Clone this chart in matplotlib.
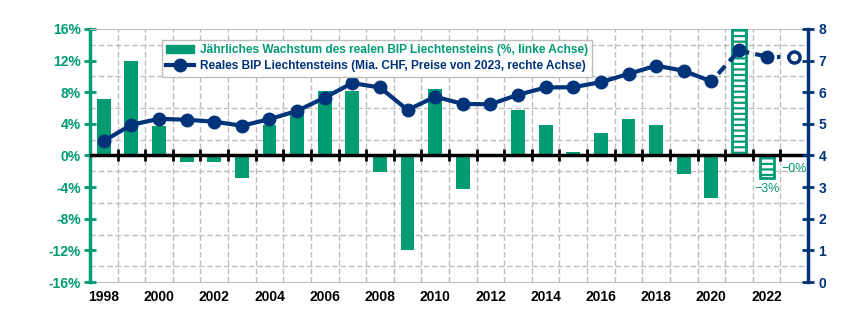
"""BIP Liechtenstein: jährliches Wachstum (Balken) und reales BIP (Linie)."""

import matplotlib.pyplot as plt
import numpy as np
from matplotlib.lines import Line2D
from matplotlib.patches import Patch

plt.rcParams["font.family"] = ["Liberation Sans", "DejaVu Sans"]
plt.rcParams["hatch.linewidth"] = 1.6

GREEN = "#009a73"
NAVY = "#00337a"
GRID = "#bdbdbd"

years = list(range(1998, 2024))
growth = [7.2, 11.9, 3.7, -0.85, -0.85, -2.9, 3.9, 5.4, 8.1, 8.1,
          -2.1, -11.9, 8.4, -4.3, -0.2, 5.7, 3.8, 0.4, 2.8, 4.6,
          3.8, -2.4, -5.4, 16.0, -2.8, -0.2]
# 2021 and 2022 are estimates (hatched bars)
growth_hatched = [2021, 2022]
gdp = [4.46, 4.97, 5.16, 5.13, 5.07, 4.94, 5.15, 5.41, 5.83, 6.29,
       6.15, 5.44, 5.86, 5.63, 5.62, 5.92, 6.15, 6.16, 6.32, 6.58,
       6.84, 6.68, 6.34, 7.32, 7.13, 7.13]
bar_labels = {2022: "\u22123%", 2023: "\u22120%"}
year_ticks = list(range(1998, 2024, 2))

fig = plt.figure(figsize=(8.52, 3.25), dpi=100)
ax = fig.add_axes([0.1056, 0.1323, 0.8428, 0.7785])
ax2 = ax.twinx()

x = np.arange(len(years))

# bars
for xi, yr, val in zip(x, years, growth):
    if yr in growth_hatched:
        ax.bar(xi, val, width=0.5, facecolor="white", edgecolor=GREEN,
               linewidth=2, hatch="---", zorder=3)
    else:
        ax.bar(xi, val, width=0.5, color=GREEN, zorder=3)

for yr, txt in bar_labels.items():
    i = years.index(yr)
    ax.annotate(txt, (x[i], growth[i]), xytext=(0, -4), textcoords="offset points",
                ha="center", va="top", color=GREEN, fontsize=9, zorder=5)

ax.axhline(0, color="black", lw=2.5, zorder=4)

# left axis
ax.set_xlim(-0.5, len(years) - 0.5)
ax.set_ylim(-16, 16)
ax.set_yticks(np.arange(-16, 17, 4))
ax.set_yticks(np.arange(-16, 17, 2), minor=True)
ax.set_yticklabels([f"{v}%" for v in range(-16, 17, 4)])
ax.tick_params(axis="y", which="major", direction="inout", length=9, width=2,
               color=GREEN, labelcolor=GREEN, labelsize=10, pad=2)
ax.tick_params(axis="y", which="minor", length=0)
for lab in ax.get_yticklabels():
    lab.set_fontweight("bold")
ax.spines["left"].set_color(GREEN)
ax.spines["left"].set_linewidth(2.5)
ax.spines["top"].set_color(GRID)
ax.spines["right"].set_visible(False)

# x axis: ticks at category boundaries on the zero line, labels at bottom
ax.spines["bottom"].set_position(("data", 0))
ax.spines["bottom"].set_visible(False)
ax.set_xticks(x[:-1] + 0.5, minor=True)
ax.set_xticks([])
ax.tick_params(axis="x", which="minor", direction="inout", length=8, width=2,
               color="black")
ax.grid(True, which="minor", axis="both", ls=(0, (4, 2)), color=GRID, lw=1, zorder=0)
ax.set_axisbelow(True)

sec = ax.secondary_xaxis("bottom")
sec.set_xticks([years.index(y) for y in year_ticks])
sec.set_xticklabels([str(y) for y in year_ticks], fontweight="bold", fontsize=10)
sec.tick_params(length=0, pad=6)
sec.spines["bottom"].set_color(GRID)

# line on right axis
n_solid = years.index(2020) + 1
ax2.plot(x[:n_solid], gdp[:n_solid], color=NAVY, lw=3, marker="o", ms=9, zorder=6)
i21, i22, i23 = years.index(2021), years.index(2022), years.index(2023)
ax2.plot(x[n_solid - 1:i21 + 1], gdp[n_solid - 1:i21 + 1], color=NAVY, lw=3,
         ls=(1.5, (2.5, 1.5)), zorder=6)
ax2.plot(x[i21:i22 + 1], gdp[i21:i22 + 1], color=NAVY, lw=3,
         ls=(0, (2.5, 1.5)), zorder=6)
ax2.plot(x[i22:i23 + 1], gdp[i22:i23 + 1], color=NAVY, lw=3,
         ls=(0, (0.8, 1.6)), zorder=6)
ax2.plot(x[i21:i23], gdp[i21:i23], ls="none", marker="o", ms=9, color=NAVY, zorder=7)
ax2.plot(x[i23], gdp[i23], ls="none", marker="o", ms=8, mfc="white",
         mec=NAVY, mew=2.5, zorder=7)

ax2.set_ylim(0, 8)
ax2.set_yticks(range(0, 9))
ax2.tick_params(axis="y", direction="inout", length=9, width=2, color=NAVY,
                labelcolor=NAVY, labelsize=10, pad=3)
for lab in ax2.get_yticklabels():
    lab.set_fontweight("bold")
ax2.spines["right"].set_color(NAVY)
ax2.spines["right"].set_linewidth(2.5)
for s in ("left", "top", "bottom"):
    ax2.spines[s].set_visible(False)

handles = [
    Patch(facecolor=GREEN, edgecolor=GREEN),
    Line2D([], [], color=NAVY, lw=3, marker="o", ms=9),
]
labels = ["Jährliches Wachstum des realen BIP Liechtensteins (%, linke Achse)",
          "Reales BIP Liechtensteins (Mia. CHF, Preise von 2023, rechte Achse)"]
leg = ax2.legend(handles, labels, loc="upper left", bbox_to_anchor=(0.092, 0.98),
                 frameon=True, fancybox=False, edgecolor=GRID, framealpha=1,
                 prop={"weight": "bold", "size": 8.6}, handlelength=2.3,
                 borderpad=0.35, labelspacing=0.35, handletextpad=0.5)
leg.get_frame().set_linewidth(1)
leg.set_zorder(10)
for txt, col in zip(leg.get_texts(), (GREEN, NAVY)):
    txt.set_color(col)

fig.savefig("out.png", dpi=100)
